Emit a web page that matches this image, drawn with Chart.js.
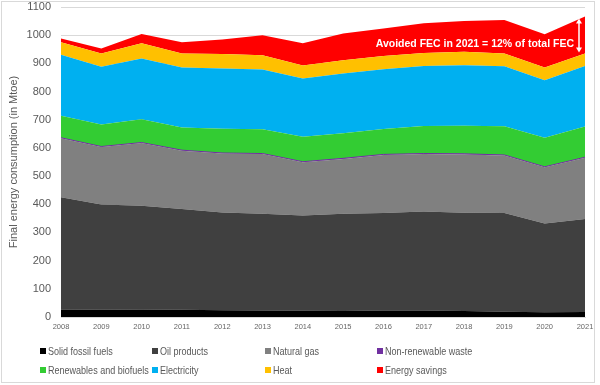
<!DOCTYPE html>
<html>
<head>
<meta charset="utf-8">
<script src="https://cdn.jsdelivr.net/npm/chart.js@4"></script>
<style>
  body { margin: 0; background: #fff; }
  #wrap { position: relative; width: 600px; height: 385px; }
  #frame { position: absolute; left: 1px; top: 1px; width: 592px; height: 380px; border: 1px solid #d9d9d9; pointer-events: none; }
  #legend { position: absolute; left: 0; top: 344px; width: 600px; font: 11px "Liberation Sans", Arial, sans-serif; color: #595959; }
  #legend .item { position: absolute; white-space: nowrap; line-height: 14px; }
  #legend .box { display: inline-block; width: 6px; height: 6px; margin-right: 2px; vertical-align: 1px; }
  #legend .txt { display: inline-block; transform: scaleX(0.82); transform-origin: left center; }
</style>
</head>
<body>
<div id="wrap">
  <canvas id="myChart"></canvas>
  <div id="frame"></div>
  <div id="legend"></div>
</div>
<script>
var years = ['2008', '2009', '2010', '2011', '2012', '2013', '2014', '2015', '2016', '2017', '2018', '2019', '2020', '2021'];

// Mtoe per carrier
var solidFossil = [27, 26, 27, 26, 24, 23, 22, 21, 23, 23, 21, 19, 17, 18];
var oilProducts = [398, 373, 368, 357, 347, 343, 338, 345, 346, 351, 349, 350, 315, 330];
var naturalGas = [209, 204, 222, 207, 209, 212, 189, 195, 206, 204, 207, 204, 199, 217];
var nonRenewableWaste = [2, 2, 2, 2, 2, 2, 2, 2, 2, 2, 2, 2, 2, 2];
var renewables = [78, 78, 83, 80, 86, 86, 89, 89, 90, 98, 100, 102, 103, 109];
var electricity = [217, 205, 215, 213, 214, 212, 206, 212, 212, 213, 214, 213, 204, 215];
var heat = [44, 47, 54, 50, 51, 51, 46, 47, 47, 46, 48, 45, 45, 44];
var energySavings = [13, 18, 33, 40, 52, 71, 79, 95, 98, 105, 109, 119, 118, 131];

var yTicks = [0, 100, 200, 300, 400, 500, 600, 700, 800, 900, 1000, 1100];

function area(label, data, color, fill) {
    return {
        label: label,
        data: data,
        backgroundColor: color,
        borderColor: color,
        borderWidth: 0,
        pointRadius: 0,
        fill: fill,
        tension: 0
    };
}

var waste = area('Non-renewable waste', nonRenewableWaste, '#7030a0', '-1');
waste.borderWidth = 1;

var datasets = [
    area('Solid fossil fuels', solidFossil, '#000000', 'origin'),
    area('Oil products', oilProducts, '#404040', '-1'),
    area('Natural gas', naturalGas, '#808080', '-1'),
    waste,
    area('Renewables and biofuels', renewables, '#33cc33', '-1'),
    area('Electricity', electricity, '#00b0f0', '-1'),
    area('Heat', heat, '#ffc000', '-1'),
    area('Energy savings', energySavings, '#ff0000', '-1')
];

// text + double arrow for the 2021 savings
var avoidedLabel = {
    id: 'avoidedLabel',
    afterDatasetsDraw: function(chart) {
        var c = chart.ctx;
        var x = chart.scales.x.getPixelForValue(13) - 6;
        var last = years.length - 1;
        var top = 0, heatTop = 0;
        for (var i = 0; i < datasets.length; i++) {
            top += datasets[i].data[last];
            if (i === 6) heatTop = top;
        }
        var y1 = chart.scales.y.getPixelForValue(top) + 2;
        var y2 = chart.scales.y.getPixelForValue(heatTop) - 1;
        c.save();
        c.strokeStyle = '#fff';
        c.fillStyle = '#fff';
        c.lineWidth = 1.5;
        c.beginPath();
        c.moveTo(x, y1 + 3);
        c.lineTo(x, y2 - 3);
        c.stroke();
        c.beginPath();
        c.moveTo(x - 3, y1 + 5); c.lineTo(x, y1); c.lineTo(x + 3, y1 + 5); c.closePath();
        c.fill();
        c.beginPath();
        c.moveTo(x - 3, y2 - 5); c.lineTo(x, y2); c.lineTo(x + 3, y2 - 5); c.closePath();
        c.fill();
        c.font = 'bold 10.5px "Liberation Sans", Arial, sans-serif';
        c.textAlign = 'right';
        c.textBaseline = 'middle';
        c.fillText('Avoided FEC in 2021 = 12% of total FEC', x - 5, chart.scales.y.getPixelForValue(970));
        c.restore();
    }
};

var ctx = document.getElementById('myChart').getContext('2d');
var chart = new Chart(ctx, {
    type: 'line',
    data: {
        labels: years,
        datasets: datasets
    },
    options: {
        responsive: true,
        maintainAspectRatio: false,
        animation: false,
        layout: { padding: { top: 7, right: 15, bottom: 49, left: 0 } },
        plugins: {
            legend: { display: false },
            tooltip: { enabled: false }
        },
        scales: {
            x: {
                grid: { display: false, drawTicks: false },
                border: { color: '#d9d9d9' },
                ticks: {
                    color: '#666666',
                    font: { size: 7.5, family: '"Liberation Sans", Arial, sans-serif' },
                    maxRotation: 0,
                    minRotation: 0,
                    autoSkip: false,
                    padding: 5
                }
            },
            y: {
                stacked: true,
                min: 0,
                max: 1100,
                afterBuildTicks: function(scale) {
                    scale.ticks = yTicks.map(function(v) { return { value: v }; });
                },
                grid: { color: '#d9d9d9', drawTicks: false },
                border: { display: false },
                ticks: {
                    color: '#595959',
                    font: { size: 11, family: '"Liberation Sans", Arial, sans-serif' },
                    padding: 10,
                    callback: function(v) { return String(v); }
                },
                title: {
                    display: true,
                    text: 'Final energy consumption (in Mtoe)',
                    color: '#595959',
                    font: { size: 11, family: '"Liberation Sans", Arial, sans-serif' },
                    padding: { top: 7, bottom: 0 }
                },
                afterFit: function(scale) {
                    scale.width = 61;
                    scale.paddingTop = 0;
                    scale.paddingBottom = 0;
                }
            }
        }
    },
    plugins: [avoidedLabel]
});

// legend laid out in Excel-like columns
var cols = [40, 152, 265, 377];
var legend = document.getElementById('legend');
datasets.forEach(function(ds, i) {
    var item = document.createElement('div');
    item.className = 'item';
    item.style.left = cols[i % 4] + 'px';
    item.style.top = (Math.floor(i / 4) * 19) + 'px';
    var box = document.createElement('span');
    box.className = 'box';
    box.style.background = ds.backgroundColor;
    var txt = document.createElement('span');
    txt.className = 'txt';
    txt.textContent = ds.label;
    item.appendChild(box);
    item.appendChild(txt);
    legend.appendChild(item);
});
</script>
</body>
</html>
